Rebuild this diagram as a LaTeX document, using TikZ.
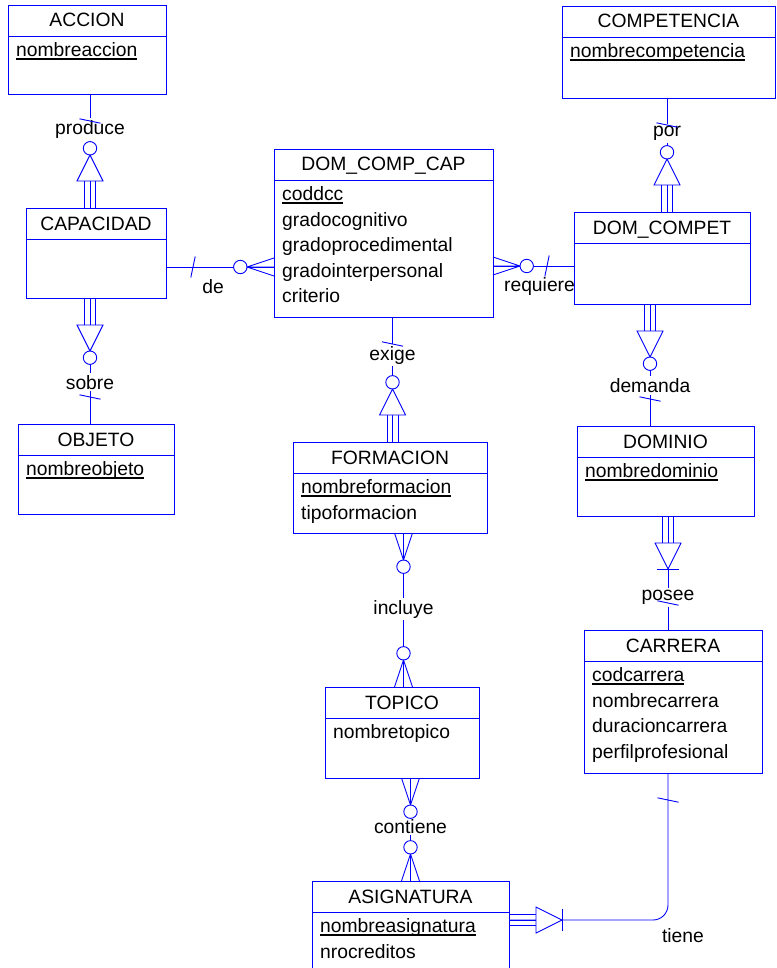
\documentclass[tikz,border=0pt]{standalone}
\usepackage{fontspec}
\setmainfont{Liberation Sans}
\usetikzlibrary{calc,positioning}

\newcommand{\letra}{\fontsize{19.3}{25.5}\selectfont}
\newcommand{\clave}[1]{\setbox0\hbox{#1}\rlap{\rule[-3.3pt]{\wd0}{1.7pt}}\box0}
% entidad: nombre, x, y (esquina), ancho, alto, titulo, atributos
\newcommand{\entidad}[7]{%
	\node[caja, minimum width=#4, minimum height=#5] (#1) at (#2,#3) {};
	\draw[linea] ($(#1.north west)+(0,31)$) -- ($(#1.north east)+(0,31)$);
	\node[titulo] at ($(#1.north)+(0,22)$) {#6};
	\foreach \atr [count=\i] in {#7}
		\node[atributo] at ($(#1.north west)+(8,{26.2+25.5*\i})$) {\atr};
}

\begin{document}
\begin{tikzpicture}[x=1pt,y=-1pt,linea/.style={draw=blue,line width=0.9pt},every node/.style={font=\letra}]
	\tikzset{
		caja/.style={linea, rectangle, anchor=north west, inner sep=0pt, outer sep=0pt},
		titulo/.style={anchor=base, inner sep=0pt},
		atributo/.style={anchor=base west, inner sep=0pt},
		rel/.style={anchor=base, inner sep=2pt},
		uno/.pic={\draw[linea] (-10.5,24.8) -- (10.5,29.2);},
		depopc/.pic={
			\draw[linea] (-5.5,0) -- (-5.5,27) (0,0) -- (0,27) (5.5,0) -- (5.5,27);
			\draw[linea, fill=white] (-13,27) -- (13,27) -- (0,53) -- cycle;
			\draw[linea, fill=white] (0,59.7) circle (6.7pt);},
		depobl/.pic={
			\draw[linea] (-5.5,0) -- (-5.5,27) (0,0) -- (0,27) (5.5,0) -- (5.5,27);
			\draw[linea, fill=white] (-13,27) -- (13,27) -- (0,53) -- cycle;
			\draw[linea] (-11,53) -- (11,53);},
		muchosopc/.pic={
			\draw[linea] (-9,0) -- (0,27) -- (9,0) (0,0) -- (0,27);
			\draw[linea, fill=white] (0,33.7) circle (6.7pt);}
	}
	\useasboundingbox (0,0) rectangle (776,968);

	\entidad{accion}{8}{5}{158}{89}{ACCION}{\clave{nombreaccion}}
	\entidad{competencia}{562}{6}{213}{92}{COMPETENCIA}{\clave{nombrecompetencia}}
	\entidad{capacidad}{26}{208}{140}{90}{CAPACIDAD}{}
	\entidad{domcompcap}{274}{149}{219}{168}{DOM\_COMP\_CAP}{\clave{coddcc},gradocognitivo,gradoprocedimental,gradointerpersonal,criterio}
	\entidad{domcompet}{574}{212}{176}{92}{DOM\_COMPET}{}
	\entidad{objeto}{18}{424}{156}{90}{OBJETO}{\clave{nombreobjeto}}
	\entidad{formacion}{293}{442}{194}{91}{FORMACION}{\clave{nombreformacion},tipoformacion}
	\entidad{dominio}{577}{426}{177}{90}{DOMINIO}{\clave{nombredominio}}
	\entidad{topico}{325}{687}{154}{91}{TOPICO}{nombretopico}
	\entidad{carrera}{584}{630}{178}{143}{CARRERA}{\clave{codcarrera},nombrecarrera,duracioncarrera,perfilprofesional}
	\entidad{asignatura}{312}{881}{197}{100}{ASIGNATURA}{\clave{nombreasignatura},nrocreditos}

	\node[rel] (produce) at (90,134.3) {produce};
	\node[rel] (sobre) at (90,389) {sobre};
	\node[rel] (por) at (667,137) {por};
	\node[rel] (exige) at (392.5,360) {exige};
	\node[rel] (demanda) at (650,392.3) {demanda};
	\node[rel] (posee) at (668,600.5) {posee};
	\node[rel] (incluye) at (403.5,614) {incluye};
	\node[rel] (contiene) at (410.5,833) {contiene};
	\node[rel] (de) at (213,293) {de};
	\node[rel] (requiere) at (539.5,291) {requiere};
	\node[rel] (tiene) at (683,942) {tiene};

	\draw[linea] (accion.south -| produce) -- (produce);
	\draw[linea] (produce) -- (capacidad.north -| produce);
	\pic at (accion.south -| produce) {uno};
	\pic[rotate=180] at (capacidad.north -| produce) {depopc};

	\draw[linea] (capacidad.south -| sobre) -- (sobre);
	\draw[linea] (sobre) -- (objeto.north -| sobre);
	\pic at (capacidad.south -| sobre) {depopc};
	\pic[rotate=180] at (objeto.north -| sobre) {uno};

	\draw[linea] (competencia.south -| por) -- (por);
	\draw[linea] (por) -- (domcompet.north -| por);
	\pic at (competencia.south -| por) {uno};
	\pic[rotate=180] at (domcompet.north -| por) {depopc};

	\draw[linea] (domcompcap.south -| exige) -- (exige);
	\draw[linea] (exige) -- (formacion.north -| exige);
	\pic at (domcompcap.south -| exige) {uno};
	\pic[rotate=180] at (formacion.north -| exige) {depopc};

	\draw[linea] (domcompet.south -| demanda) -- (demanda);
	\draw[linea] (demanda) -- (dominio.north -| demanda);
	\pic at (domcompet.south -| demanda) {depopc};
	\pic[rotate=180] at (dominio.north -| demanda) {uno};

	\draw[linea] (dominio.south -| posee) -- (posee);
	\draw[linea] (posee) -- (carrera.north -| posee);
	\pic at (dominio.south -| posee) {depobl};
	\pic[rotate=180] at (carrera.north -| posee) {uno};

	\draw[linea] (formacion.south -| incluye) -- (incluye);
	\draw[linea] (incluye) -- (topico.north -| incluye);
	\pic at (formacion.south -| incluye) {muchosopc};
	\pic[rotate=180] at (topico.north -| incluye) {muchosopc};

	\draw[linea] (topico.south -| contiene) -- (contiene);
	\draw[linea] (contiene) -- (asignatura.north -| contiene);
	\pic at (topico.south -| contiene) {muchosopc};
	\pic[rotate=180] at (asignatura.north -| contiene) {muchosopc};

	\coordinate (yde) at (0,267);
	\draw[linea] (capacidad.east |- yde) -- (domcompcap.west |- yde);
	\pic[rotate=90] at (capacidad.east |- yde) {uno};
	\pic[rotate=-90] at (domcompcap.west |- yde) {muchosopc};

	\coordinate (yreq) at (0,266);
	\draw[linea] (domcompcap.east |- yreq) -- (domcompet.west |- yreq);
	\pic[rotate=90] at (domcompcap.east |- yreq) {muchosopc};
	\pic[rotate=-90] at (domcompet.west |- yreq) {uno};

	\coordinate (codo) at (668,920);
	\draw[linea, rounded corners=15pt] (asignatura.east |- codo) -- (codo) -- (carrera.south -| codo);
	\pic[rotate=90] at (asignatura.east |- codo) {depobl};
	\pic at (carrera.south -| codo) {uno};
\end{tikzpicture}
\end{document}
